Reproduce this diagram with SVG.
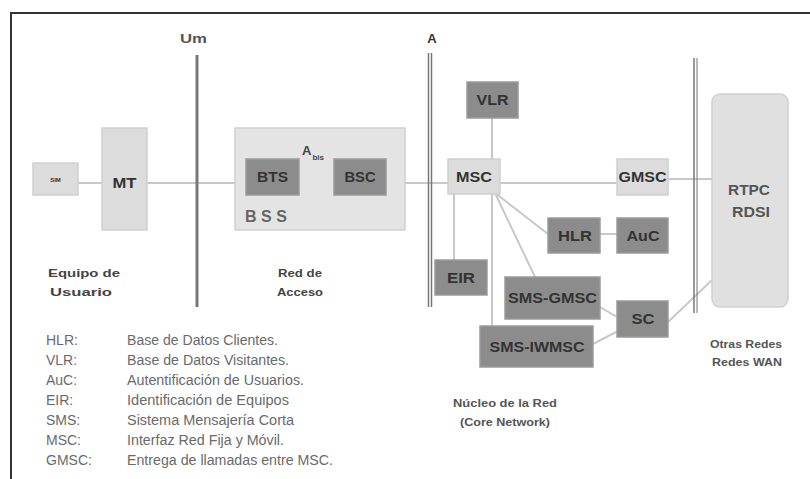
<svg xmlns="http://www.w3.org/2000/svg" width="810" height="479" viewBox="0 0 810 479">
<style>
text{font-family:"Liberation Sans",Arial,sans-serif}
.lt{fill:#dcdcdc;stroke:#cfcfcf;stroke-width:1.5}
.dk{fill:#8c8c8c;stroke:#9a9a9a;stroke-width:1.5}
.bl{font-weight:bold;font-size:14px;fill:#333;text-anchor:middle}
.cap{font-weight:bold;font-size:11px;fill:#444;text-anchor:middle}
.lg{font-size:14px;fill:#6a6a6a}
.cn{stroke:#c8c8c8;stroke-width:2;fill:none}
.if{stroke:#777;fill:none}
</style>
<rect x="0" y="0" width="810" height="479" fill="#fff"/>
<path d="M11,479 V13 H810" fill="none" stroke="#333" stroke-width="2"/>

<g id="connectors">
<path class="cn" d="M78,183 H102 M147,183 H246 M299,183 H334 M386,183 H448 M500,183 H617 M668,179 H712"/>
<path class="cn" d="M492,118 V159"/>
<path class="cn" d="M454,194 V260" stroke-width="1"/>
<path class="cn" d="M492,194 V326"/>
<path class="cn" d="M495,193 L548,234"/>
<path class="cn" d="M495,193 L535,277"/>
<path class="cn" d="M600,234 H617"/>
<path class="cn" d="M600,307 L617,317"/>
<path class="cn" d="M593,344 L620,330"/>
<path class="cn" d="M668,322 L712,280"/>
</g>

<g id="interfaces">
<line class="if" x1="197" y1="55" x2="197" y2="307" stroke-width="3" stroke="#707070"/>
<text x="193.5" y="43" class="bl" style="font-size:13px;fill:#555" textLength="27" lengthAdjust="spacingAndGlyphs">Um</text>
<line class="if" x1="428.5" y1="53" x2="428.5" y2="307" stroke-width="1.5"/>
<line class="if" x1="431.5" y1="53" x2="431.5" y2="307" stroke-width="1.5"/>
<text x="432" y="43" class="bl" style="font-size:13px">A</text>
<line class="if" x1="694" y1="58" x2="694" y2="313" stroke-width="1.5" stroke="#888"/>
<line class="if" x1="697" y1="58" x2="697" y2="313" stroke-width="1" stroke="#aaa"/>
</g>

<g id="sim"><rect class="lt" x="33" y="163" width="45" height="32"/><text x="55.5" y="182" class="bl" style="font-size:6px">SIM</text></g>
<g id="mt"><rect class="lt" x="102" y="128" width="45" height="102"/><text x="124.5" y="188" class="bl" textLength="24" lengthAdjust="spacingAndGlyphs">MT</text></g>

<g id="bss">
<rect x="235" y="128" width="170" height="102" fill="#e4e4e4" stroke="#d0d0d0" stroke-width="1.5"/>
<text x="245" y="222" style="font-weight:bold;font-size:16px;fill:#666" textLength="42" lengthAdjust="spacing">BSS</text>
<text x="302" y="155" style="font-weight:bold;font-size:13px;fill:#444">A<tspan font-size="8" dy="5" dx="1">bis</tspan></text>
</g>
<g id="bts"><rect class="dk" x="246" y="159" width="53" height="36"/><text x="272.5" y="182" class="bl" textLength="31" lengthAdjust="spacingAndGlyphs">BTS</text></g>
<g id="bsc"><rect class="dk" x="334" y="159" width="52" height="36"/><text x="360" y="182" class="bl" textLength="31" lengthAdjust="spacingAndGlyphs">BSC</text></g>

<g id="vlr"><rect class="dk" x="467" y="82" width="51" height="36"/><text x="492.5" y="105" class="bl" textLength="32" lengthAdjust="spacingAndGlyphs">VLR</text></g>
<g id="msc"><rect class="lt" x="448" y="159" width="52" height="35"/><text x="474" y="182" class="bl" textLength="36" lengthAdjust="spacingAndGlyphs">MSC</text></g>
<g id="gmsc"><rect class="lt" x="617" y="159" width="51" height="36"/><text x="642.5" y="182" class="bl" textLength="48" lengthAdjust="spacingAndGlyphs">GMSC</text></g>
<g id="hlr"><rect class="dk" x="548" y="218" width="52" height="35"/><text x="575" y="241" class="bl" textLength="34" lengthAdjust="spacingAndGlyphs">HLR</text></g>
<g id="auc"><rect class="dk" x="617" y="218" width="51" height="35"/><text x="643" y="241" class="bl" textLength="33" lengthAdjust="spacingAndGlyphs">AuC</text></g>
<g id="eir"><rect class="dk" x="435" y="260" width="52" height="35"/><text x="461" y="283" class="bl" textLength="28" lengthAdjust="spacingAndGlyphs">EIR</text></g>
<g id="sms-gmsc"><rect class="dk" x="505" y="277" width="95" height="42"/><text x="552.5" y="303" class="bl" textLength="89" lengthAdjust="spacingAndGlyphs">SMS-GMSC</text></g>
<g id="sms-iwmsc"><rect class="dk" x="480" y="326" width="113" height="41"/><text x="537" y="352" class="bl" textLength="95" lengthAdjust="spacingAndGlyphs">SMS-IWMSC</text></g>
<g id="sc"><rect class="dk" x="617" y="301" width="51" height="36"/><text x="643" y="324" class="bl" textLength="23" lengthAdjust="spacingAndGlyphs">SC</text></g>
<g id="rtpc"><rect x="712" y="94" width="76" height="213" rx="8" fill="#e0e0e0" stroke="#d0d0d0" stroke-width="1.5"/>
<text x="749" y="195" class="bl" style="fill:#555" textLength="42" lengthAdjust="spacingAndGlyphs">RTPC</text>
<text x="751" y="217" class="bl" style="fill:#555" textLength="38" lengthAdjust="spacingAndGlyphs">RDSI</text></g>

<g id="captions">
<text x="84" y="277" class="cap" textLength="72" lengthAdjust="spacingAndGlyphs">Equipo de</text>
<text x="81" y="296" class="cap" textLength="62" lengthAdjust="spacingAndGlyphs">Usuario</text>
<text x="300" y="277" class="cap" textLength="44" lengthAdjust="spacingAndGlyphs">Red de</text>
<text x="300" y="296" class="cap" textLength="46" lengthAdjust="spacingAndGlyphs">Acceso</text>
<text x="746" y="348" class="cap" style="fill:#555" textLength="72" lengthAdjust="spacingAndGlyphs">Otras Redes</text>
<text x="747" y="366" class="cap" style="fill:#555" textLength="70" lengthAdjust="spacingAndGlyphs">Redes WAN</text>
<text x="505" y="407" class="cap" style="fill:#555" textLength="104" lengthAdjust="spacingAndGlyphs">Núcleo de la Red</text>
<text x="505" y="426" class="cap" style="fill:#555" textLength="90" lengthAdjust="spacingAndGlyphs">(Core Network)</text>
</g>

<g id="legend">
<text x="46" y="345" class="lg">HLR:</text><text x="127" y="345" class="lg" textLength="151" lengthAdjust="spacingAndGlyphs">Base de Datos Clientes.</text>
<text x="46" y="365" class="lg">VLR:</text><text x="127" y="365" class="lg" textLength="162" lengthAdjust="spacingAndGlyphs">Base de Datos Visitantes.</text>
<text x="46" y="385" class="lg">AuC:</text><text x="127" y="385" class="lg" textLength="177" lengthAdjust="spacingAndGlyphs">Autentificación de Usuarios.</text>
<text x="46" y="405" class="lg">EIR:</text><text x="127" y="405" class="lg" textLength="162" lengthAdjust="spacingAndGlyphs">Identificación de Equipos</text>
<text x="46" y="425" class="lg">SMS:</text><text x="127" y="425" class="lg" textLength="167" lengthAdjust="spacingAndGlyphs">Sistema Mensajería Corta</text>
<text x="46" y="445" class="lg">MSC:</text><text x="127" y="445" class="lg" textLength="157" lengthAdjust="spacingAndGlyphs">Interfaz Red Fija y Móvil.</text>
<text x="46" y="465" class="lg">GMSC:</text><text x="127" y="465" class="lg" textLength="206" lengthAdjust="spacingAndGlyphs">Entrega de llamadas entre MSC.</text>
</g>
</svg>
